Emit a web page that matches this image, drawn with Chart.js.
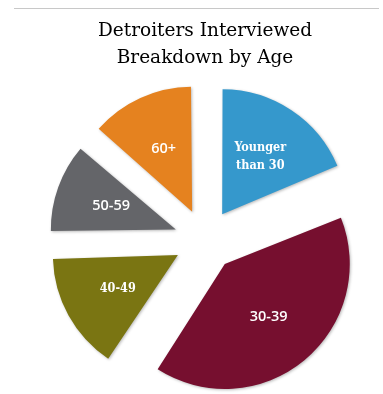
<!DOCTYPE html>
<html>
<head>
<meta charset="utf-8">
<script src="https://cdn.jsdelivr.net/npm/chart.js@4"></script>
<style>
  html, body { margin: 0; padding: 0; background: #fff; }
  #wrap { width: 383px; height: 394px; }
</style>
</head>
<body>
<div id="wrap"><canvas id="ageChart"></canvas></div>
<script>
/* Data */
const ageGroups = ["Younger than 30", "30-39", "40-49", "50-59", "60+"];
const sliceLabels = [["Younger", "than 30"], ["30-39"], ["40-49"], ["50-59"], ["60+"]];
const shares = [18.7, 40.6, 15.3, 11.8, 13.6];
const sliceColors = ["#3598cc", "#760f2f", "#7a7512", "#646569", "#e5821f"];

// Chart.js moves an arc by offset / 4
const sliceOffset = 124;
const pieRadius = 125;

/* Thin grey rule at the very top */
const topRule = {
  id: "topRule",
  beforeDraw(chart) {
    const c = chart.ctx;
    c.save();
    c.strokeStyle = "#c8c8c8";
    c.lineWidth = 1;
    c.beginPath();
    c.moveTo(14, 8.5);
    c.lineTo(379, 8.5);
    c.stroke();
    c.restore();
  }
};

/* Chart.js grows narrow exploded arcs a bit; take that back so all slices share one radius */
const evenRadius = {
  id: "evenRadius",
  afterDatasetsUpdate(chart) {
    chart.getDatasetMeta(0).data.forEach((arc) => {
      const fix = 1 - Math.sin(Math.min(Math.PI, arc.circumference || 0));
      arc.outerRadius = pieRadius - (sliceOffset / 4) * fix;
    });
  }
};

/* Soft shadow under the slices */
const sliceShadow = {
  id: "sliceShadow",
  beforeDatasetsDraw(chart) {
    const c = chart.ctx;
    c.save();
    c.shadowColor = "rgba(0,0,0,0.28)";
    c.shadowBlur = 3;
    c.shadowOffsetX = 1;
    c.shadowOffsetY = 1;
  },
  afterDatasetsDraw(chart) {
    chart.ctx.restore();
  }
};

/* White labels inside each slice */
const sliceText = {
  id: "sliceText",
  afterDatasetsDraw(chart) {
    const c = chart.ctx;
    const arcs = chart.getDatasetMeta(0).data;
    c.save();
    c.fillStyle = "#ffffff";
    c.textAlign = "center";
    c.textBaseline = "middle";
    arcs.forEach((arc, i) => {
      const mid = (arc.startAngle + arc.endAngle) / 2;
      const d = sliceOffset / 4 + pieRadius * 0.55;
      const x = arc.x + Math.cos(mid) * d;
      const y = arc.y + Math.sin(mid) * d;
      const lines = sliceLabels[i];
      const serif = i === 0 || i === 2;
      c.font = serif ? "bold 12.5px 'DejaVu Serif Condensed'" : "600 14.5px 'Open Sans'";
      const lh = 18;
      lines.forEach((t, k) => {
        c.fillText(t, x, y + (k - (lines.length - 1) / 2) * lh);
      });
    });
    c.restore();
  }
};

const ctx = document.getElementById("ageChart").getContext("2d");

new Chart(ctx, {
  type: "pie",
  data: {
    labels: ageGroups,
    datasets: [
      {
        data: shares,
        backgroundColor: sliceColors,
        borderWidth: 0,
        offset: sliceOffset,
        radius: pieRadius,
      },
    ],
  },
  options: {
    responsive: true,
    maintainAspectRatio: false,
    animation: false,
    layout: { padding: { left: 27, right: 0, top: 0, bottom: 0 } },
    plugins: {
      legend: { display: false },
      tooltip: { enabled: false },
      title: {
        display: true,
        text: ["Detroiters Interviewed", "Breakdown by Age"],
        color: "#000",
        font: { family: "'DejaVu Serif'", size: 18.5, weight: "normal", lineHeight: 1.46 },
        padding: { top: 18, bottom: 14 },
      },
    },
  },
  plugins: [topRule, evenRadius, sliceShadow, sliceText],
});
</script>
</body>
</html>
